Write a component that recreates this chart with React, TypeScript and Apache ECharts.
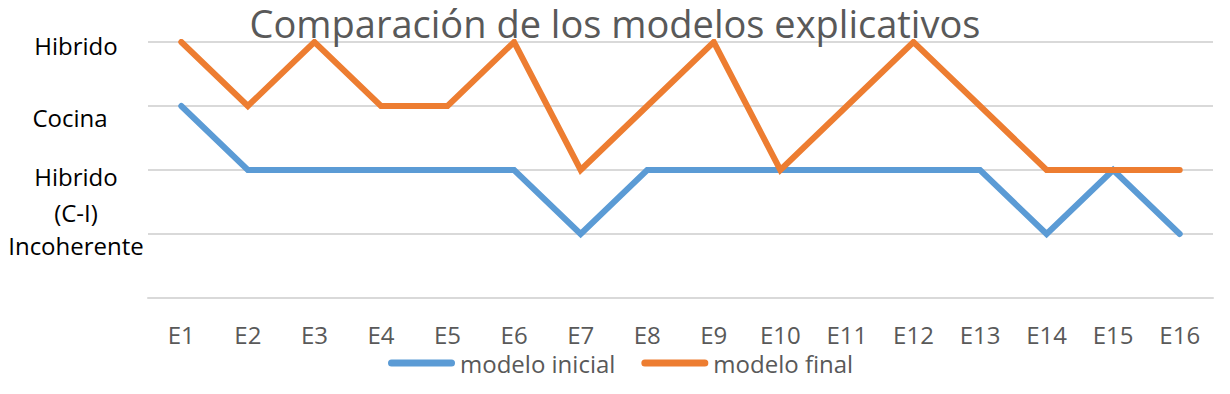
import React, { useEffect, useRef } from 'react';
import * as echarts from 'echarts';

const chartTitle = 'Comparación de los modelos explicativos';
const categories = ['E1', 'E2', 'E3', 'E4', 'E5', 'E6', 'E7', 'E8', 'E9', 'E10', 'E11', 'E12', 'E13', 'E14', 'E15', 'E16'];
const seriesNames = ['modelo inicial', 'modelo final'];
const modeloInicial = [3, 2, 2, 2, 2, 2, 1, 2, 2, 2, 2, 2, 2, 1, 2, 1];
const modeloFinal = [4, 3, 4, 3, 3, 4, 2, 3, 4, 2, 3, 4, 3, 2, 2, 2];
const yTickLabels = ['', 'Incoherente', 'Hibrido\n(C-I)', 'Cocina', 'Hibrido'];

const FONT = '"Open Sans", sans-serif';
const spacer: Record<number, number> = { 4: 6, 3: 22, 2: 58, 1: 22 };
const CAPSULE = 'path://M3.5,0 H63.5 A3.5,3.5 0 0 1 63.5,7 H3.5 A3.5,3.5 0 0 1 3.5,0 Z';

export default function App() {
  const ref = useRef<HTMLDivElement>(null);
  useEffect(() => {
    document.body.style.margin = '0';
    const chart = echarts.init(ref.current!, undefined, { renderer: 'svg' });
    chart.setOption({
      animation: false,
      backgroundColor: '#ffffff',
      title: {
        text: chartTitle,
        left: 'center',
        top: 2,
        padding: 0,
        textStyle: { fontFamily: FONT, fontSize: 38, lineHeight: 42, fontWeight: 'normal', color: '#595959' },
      },
      grid: { left: 148, right: 17, top: 42, bottom: 96 },
      legend: {
        data: seriesNames,
        left: 388,
        top: 351,
        padding: 0,
        icon: CAPSULE,
        itemWidth: 67,
        itemHeight: 7,
        itemGap: 26,
        textStyle: { fontFamily: FONT, fontSize: 24, lineHeight: 24, color: '#595959' },
      },
      xAxis: {
        type: 'category',
        data: categories,
        boundaryGap: true,
        axisLine: { show: true, lineStyle: { color: '#d9d9d9', width: 2 } },
        axisTick: { show: false },
        axisLabel: { fontFamily: FONT, fontSize: 24, lineHeight: 24, color: '#595959', margin: 24 },
      },
      yAxis: {
        type: 'value',
        min: 0,
        max: 4,
        interval: 1,
        axisLine: { show: false },
        axisTick: { show: false },
        splitLine: { lineStyle: { color: '#d9d9d9', width: 2 } },
        axisLabel: {
          align: 'center',
          margin: 72,
          formatter: (v: number) => {
            const lbl = yTickLabels[v];
            if (!lbl) return '';
            const lines = lbl.split('\n');
            const body = lines
              .map((l, i) => (i === 0 ? (v === 3 ? `{c|${l}}` : `{t|${l}}`) : `{u|${l}}`))
              .join('\n');
            return `{s${spacer[v]}| }\n${body}`;
          },
          rich: {
            s6: { lineHeight: 6, fontSize: 1 },
            s22: { lineHeight: 22, fontSize: 1 },
            s58: { lineHeight: 58, fontSize: 1 },
            t: { fontFamily: FONT, fontSize: 24, lineHeight: 26, color: '#000000' },
            c: { fontFamily: FONT, fontSize: 24, lineHeight: 26, color: '#000000', padding: [0, 12, 0, 0] },
            u: { fontFamily: FONT, fontSize: 24, lineHeight: 46, color: '#000000' },
          },
        },
      },
      series: [
        {
          name: seriesNames[0],
          type: 'line',
          data: modeloInicial,
          symbol: 'none',
          color: '#5b9bd5',
          lineStyle: { width: 6, color: '#5b9bd5', cap: 'round', join: 'miter' },
        },
        {
          name: seriesNames[1],
          type: 'line',
          data: modeloFinal,
          symbol: 'none',
          color: '#ed7d31',
          lineStyle: { width: 6, color: '#ed7d31', cap: 'round', join: 'miter' },
        },
      ],
    });
    return () => chart.dispose();
  }, []);
  return <div ref={ref} style={{ width: 1230, height: 394 }} />;
}
